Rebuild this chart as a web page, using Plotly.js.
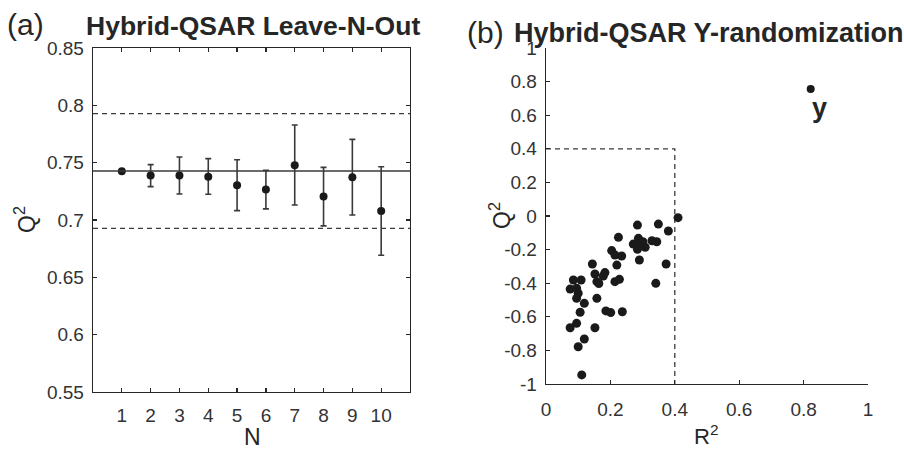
<!DOCTYPE html>
<html><head><meta charset="utf-8">
<script src="https://cdn.plot.ly/plotly-3.0.1.min.js"></script>
<style>html,body{margin:0;padding:0;background:#fff}#chart{width:904px;height:451px}</style>
</head><body><div id="chart"></div>
<script>
// Panel (a): Leave-N-Out
const nValues = [1,2,3,4,5,6,7,8,9,10];
const q2Mean = [0.7425,0.7387,0.7387,0.7378,0.7303,0.7265,0.7477,0.7204,0.7372,0.7079];
const q2ErrPlus = [0,0.0096,0.0162,0.0157,0.0223,0.0168,0.0351,0.0255,0.0331,0.0386];
const q2ErrMinus = [0,0.0096,0.0160,0.0154,0.0221,0.0168,0.0346,0.0255,0.0328,0.0386];
const q2Reference = 0.7427;
const q2UpperLimit = 0.7927;
const q2LowerLimit = 0.6927;
const yTickValsA = [0.55,0.6,0.65,0.7,0.75,0.8,0.85];
const yTickTextA = ['0.55','0.6','0.65','0.7','0.75','0.8','0.85'];

// Panel (b): Y-randomization
const randR2 = [0.410,0.284,0.349,0.380,0.225,0.329,0.344,0.287,0.271,0.292,0.308,0.284,0.301,0.290,0.373,0.341,
  0.204,0.214,0.235,0.220,0.183,0.178,0.214,0.228,0.144,0.152,0.158,0.164,0.085,0.109,0.075,0.095,0.100,0.095,
  0.119,0.158,0.106,0.186,0.201,0.237,0.075,0.095,0.152,0.119,0.100,0.111];
const randQ2 = [-0.010,-0.054,-0.048,-0.089,-0.127,-0.147,-0.153,-0.133,-0.167,-0.173,-0.186,-0.198,-0.153,-0.262,-0.286,-0.401,
  -0.206,-0.232,-0.238,-0.292,-0.337,-0.357,-0.391,-0.377,-0.286,-0.345,-0.391,-0.402,-0.381,-0.381,-0.435,-0.430,-0.460,-0.490,
  -0.520,-0.490,-0.573,-0.565,-0.575,-0.570,-0.665,-0.639,-0.665,-0.732,-0.778,-0.946];
const modelR2 = [0.822];
const modelQ2 = [0.756];
const modelLabel = ['y'];
const thresholdR2 = 0.4;
const thresholdQ2 = 0.4;
const xTickValsB = [0,0.2,0.4,0.6,0.8,1];
const xTickTextB = ['0','0.2','0.4','0.6','0.8','1'];
const yTickValsB = [-1,-0.8,-0.6,-0.4,-0.2,0,0.2,0.4,0.6,0.8,1];
const yTickTextB = ['-1','-0.8','-0.6','-0.4','-0.2','0','0.2','0.4','0.6','0.8','1'];

const INK = '#262626';
const FONT = 'Liberation Sans, Arial, Helvetica, sans-serif';
const W = 904, H = 451;
const px = v => v / W, py = v => (H - v) / H;

const traces = [
  { x: nValues, y: q2Mean, type: 'scatter', mode: 'markers', xaxis: 'x', yaxis: 'y',
    marker: { color: '#1a1a1a', size: 8 },
    error_y: { type: 'data', symmetric: false, array: q2ErrPlus, arrayminus: q2ErrMinus,
      color: '#3a3a3a', thickness: 1.6, width: 3 } },
  { x: [0, 11], y: [q2Reference, q2Reference], type: 'scatter', mode: 'lines', xaxis: 'x', yaxis: 'y',
    line: { color: '#3a3a3a', width: 1.5 } },
  { x: [0, 11], y: [q2UpperLimit, q2UpperLimit], type: 'scatter', mode: 'lines', xaxis: 'x', yaxis: 'y',
    line: { color: '#3a3a3a', width: 1.3, dash: '5px,4px' } },
  { x: [0, 11], y: [q2LowerLimit, q2LowerLimit], type: 'scatter', mode: 'lines', xaxis: 'x', yaxis: 'y',
    line: { color: '#3a3a3a', width: 1.3, dash: '5px,4px' } },
  { x: [0, thresholdR2, thresholdR2], y: [thresholdQ2, thresholdQ2, -1], type: 'scatter', mode: 'lines',
    xaxis: 'x2', yaxis: 'y2', line: { color: '#3a3a3a', width: 1.3, dash: '5px,4px' } },
  { x: randR2, y: randQ2, type: 'scatter', mode: 'markers', xaxis: 'x2', yaxis: 'y2',
    marker: { color: '#1a1a1a', size: 9 } },
  { x: modelR2, y: modelQ2, type: 'scatter', mode: 'markers', xaxis: 'x2', yaxis: 'y2',
    marker: { color: '#1a1a1a', size: 8 } }
];

const tickFont = { family: FONT, size: 19, color: '#333333' };
const axisCommon = { showgrid: false, zeroline: false, showline: true, linecolor: INK, linewidth: 1.3,
  ticks: 'inside', ticklen: 4, tickwidth: 1.2, tickcolor: INK, tickfont: tickFont, fixedrange: true };

const layout = {
  width: W, height: H, margin: { l: 0, r: 0, t: 0, b: 0 }, showlegend: false,
  paper_bgcolor: '#fff', plot_bgcolor: '#fff',
  xaxis: Object.assign({}, axisCommon, { domain: [px(93), px(410)], range: [0, 11], anchor: 'y',
    tickvals: nValues, ticktext: nValues.map(String), mirror: 'allticks', ticklabelstandoff: 6 }),
  yaxis: Object.assign({}, axisCommon, { domain: [py(392), py(48)], range: [0.55, 0.85], anchor: 'x',
    tickvals: yTickValsA, ticktext: yTickTextA, mirror: 'allticks', ticklabelstandoff: 4 }),
  xaxis2: Object.assign({}, axisCommon, { domain: [px(546), px(868)], range: [0, 1], anchor: 'y2',
    tickvals: xTickValsB, ticktext: xTickTextB, ticklabelstandoff: 8 }),
  yaxis2: Object.assign({}, axisCommon, { domain: [py(384), py(48)], range: [-1, 1], anchor: 'x2',
    tickvals: yTickValsB, ticktext: yTickTextB, ticklabelstandoff: 4 }),
  annotations: [
    { text: '(a)', xref: 'paper', yref: 'paper', x: px(5), y: py(25), xanchor: 'left', yanchor: 'middle',
      showarrow: false, font: { family: FONT, size: 30, color: INK } },
    { text: '<b>Hybrid-QSAR Leave-N-Out</b>', xref: 'paper', yref: 'paper', x: px(84), y: py(26),
      xanchor: 'left', yanchor: 'middle', showarrow: false, font: { family: FONT, size: 26.5, color: INK } },
    { text: '(b)', xref: 'paper', yref: 'paper', x: px(465), y: py(33), xanchor: 'left', yanchor: 'middle',
      showarrow: false, font: { family: FONT, size: 30, color: INK } },
    { text: '<b>Hybrid-QSAR Y-randomization</b>', xref: 'paper', yref: 'paper', x: px(512), y: py(33),
      xanchor: 'left', yanchor: 'middle', showarrow: false, font: { family: FONT, size: 27, color: INK } },
    { text: 'Q<sup>2</sup>', xref: 'paper', yref: 'paper', x: px(25), y: py(220), textangle: -90,
      xanchor: 'center', yanchor: 'middle', showarrow: false, font: { family: FONT, size: 23, color: INK } },
    { text: 'Q<sup>2</sup>', xref: 'paper', yref: 'paper', x: px(500), y: py(216), textangle: -90,
      xanchor: 'center', yanchor: 'middle', showarrow: false, font: { family: FONT, size: 23, color: INK } },
    { text: 'N', xref: 'paper', yref: 'paper', x: px(252), y: py(437), xanchor: 'center', yanchor: 'middle',
      showarrow: false, font: { family: FONT, size: 23, color: INK } },
    { text: 'R<sup>2</sup>', xref: 'paper', yref: 'paper', x: px(706), y: py(435), xanchor: 'center', yanchor: 'middle',
      showarrow: false, font: { family: FONT, size: 22, color: INK } },
    { text: '<b>' + modelLabel[0] + '</b>', xref: 'x2', yref: 'y2', x: modelR2[0], y: modelQ2[0],
      xanchor: 'left', yanchor: 'top', xshift: -1, yshift: -2, showarrow: false,
      font: { family: FONT, size: 27, color: INK } }
  ]
};

Plotly.newPlot('chart', traces, layout, { displayModeBar: false, staticPlot: true });
</script>
</body></html>
